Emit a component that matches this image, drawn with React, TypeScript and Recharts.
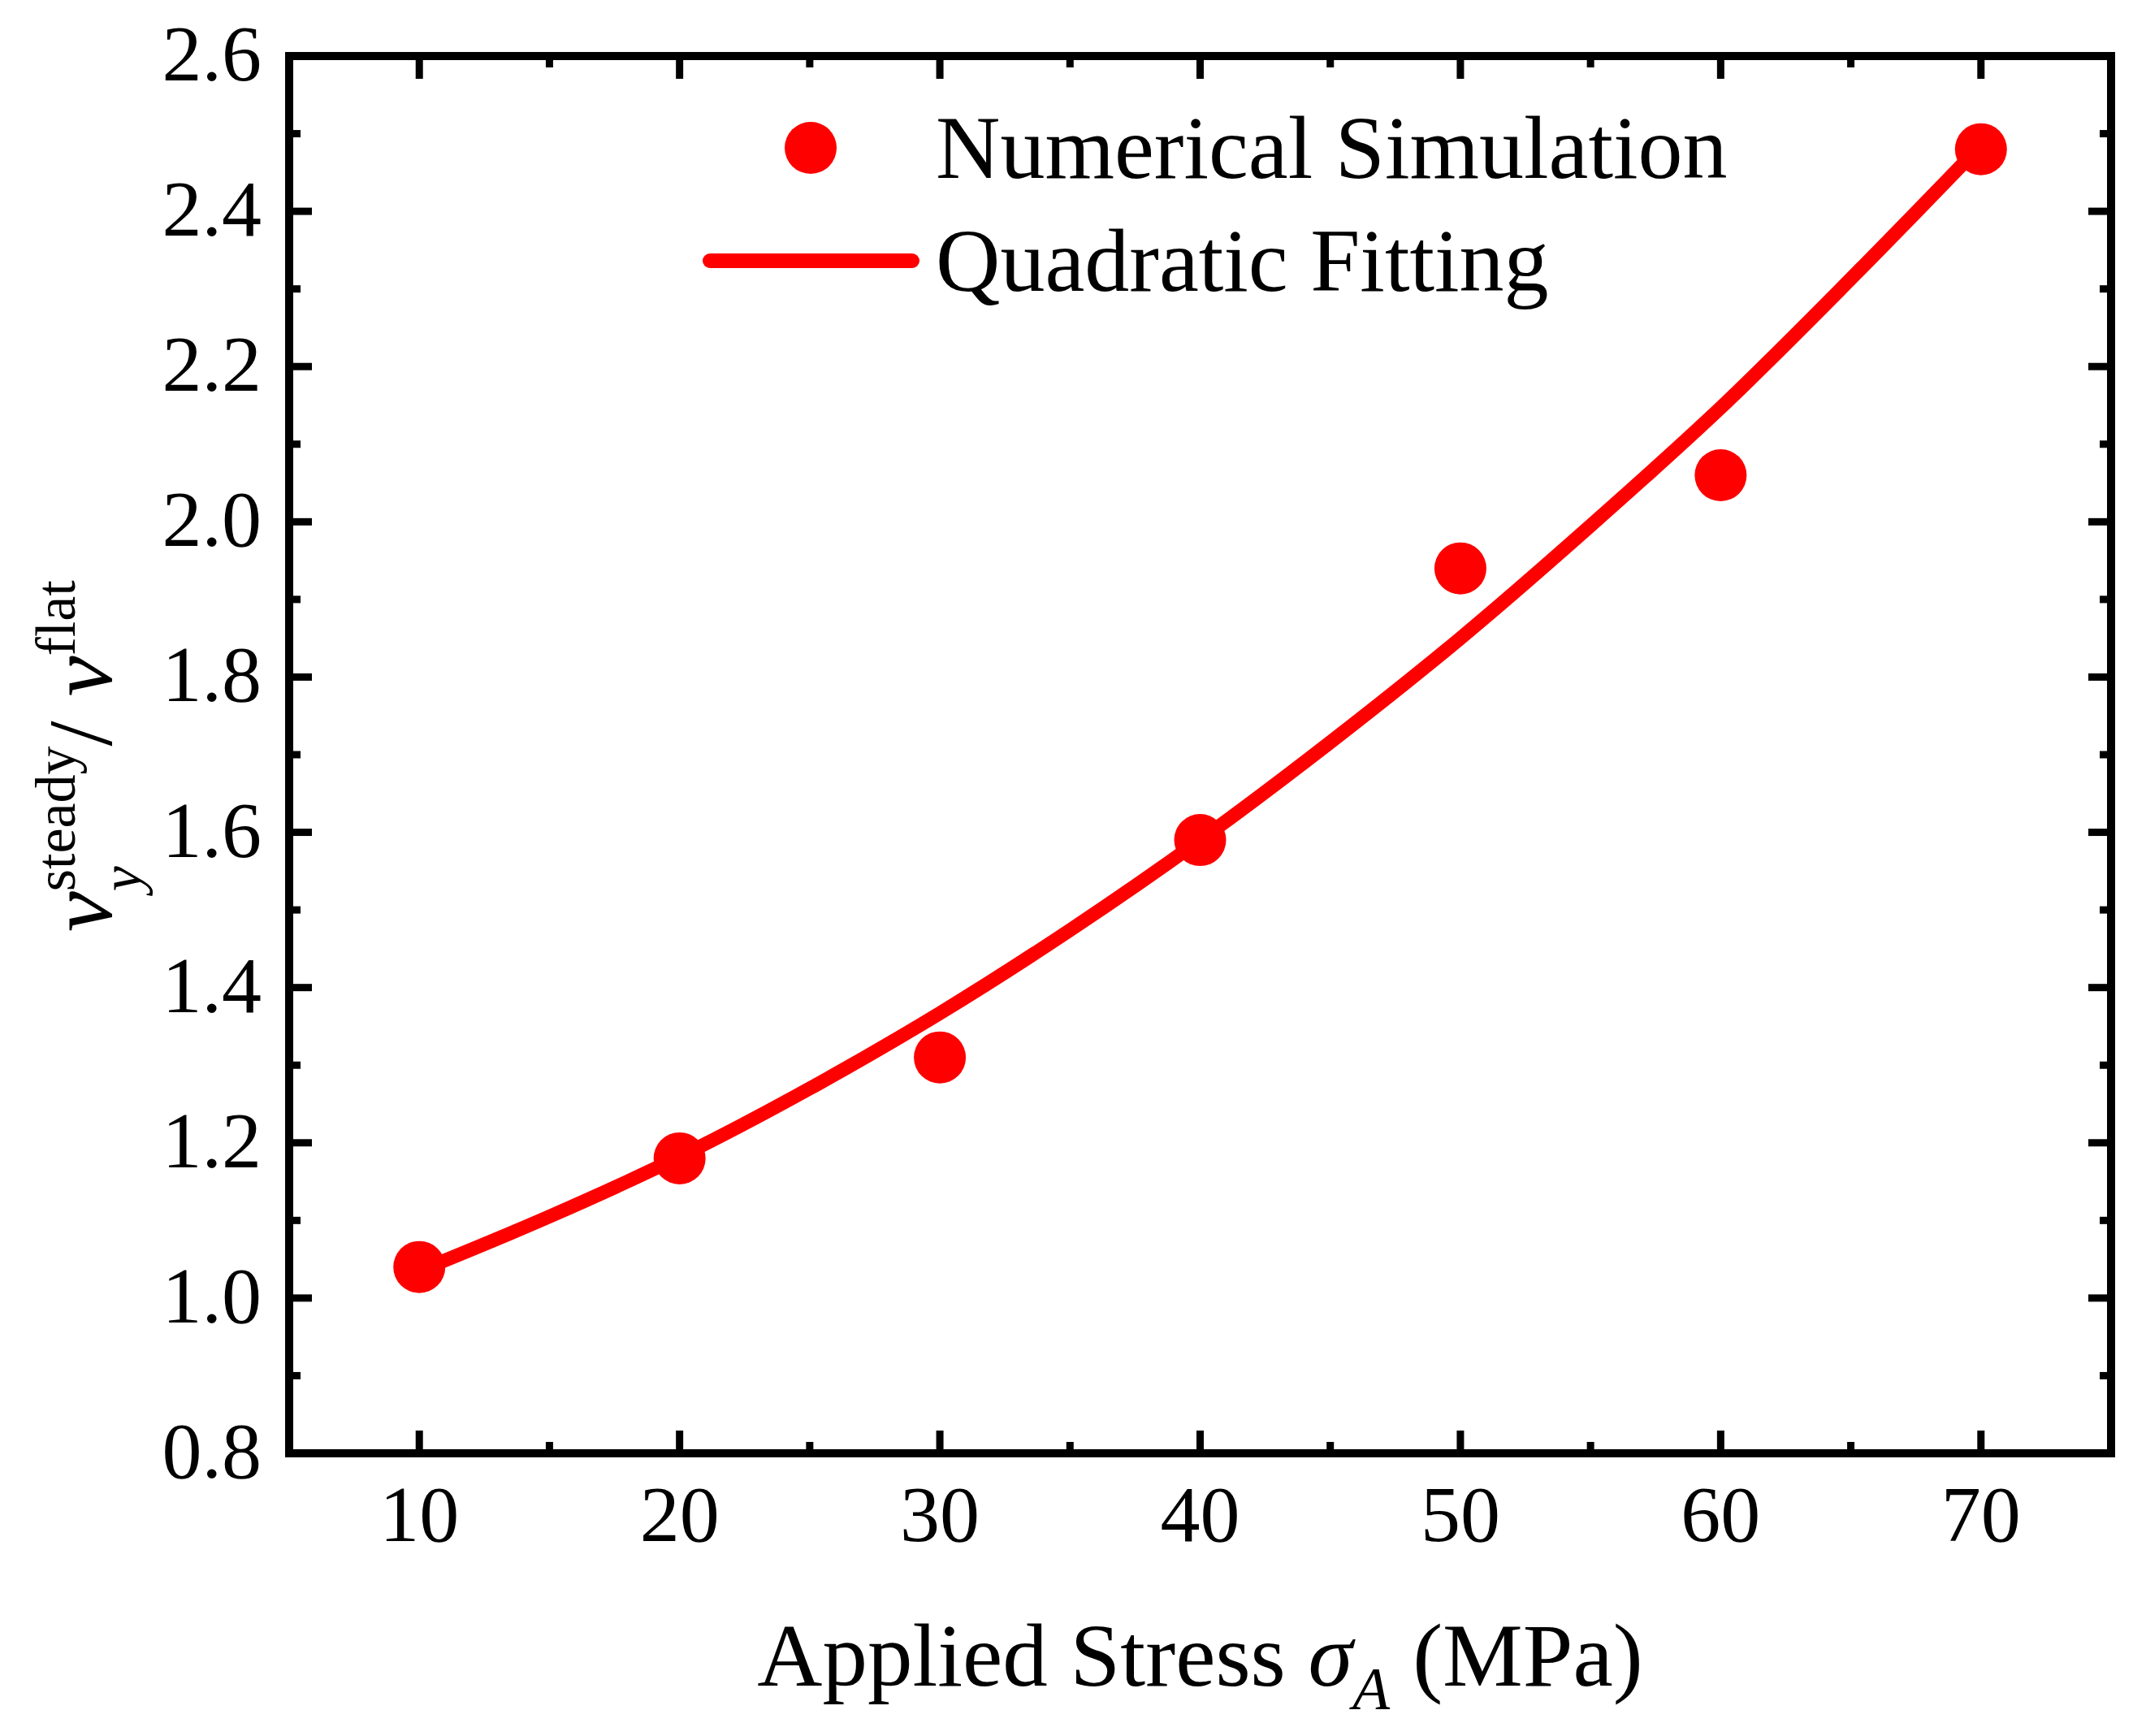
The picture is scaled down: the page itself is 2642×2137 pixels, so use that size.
import React from 'react';
import { ComposedChart, Line, Scatter, XAxis, YAxis, ReferenceArea, Legend } from 'recharts';

// applied stress (MPa) and v_y^steady / v^flat from the simulation
const stress = [10, 20, 30, 40, 50, 60, 70];
const simRatio = [1.04, 1.18, 1.31, 1.59, 1.94, 2.06, 2.48];

// points
const fitStress = [10, 15, 20, 25, 30, 35, 40, 45, 50, 55, 60, 65, 70];
const fitRatio = [1.035, 1.105, 1.182, 1.27, 1.367, 1.474, 1.59, 1.716, 1.85, 1.995, 2.147, 2.313, 2.485];

const xTicks = [10, 15, 20, 25, 30, 35, 40, 45, 50, 55, 60, 65, 70];
const yTicks = [0.8, 0.9, 1.0, 1.1, 1.2, 1.3, 1.4, 1.5, 1.6, 1.7, 1.8, 1.9, 2.0, 2.1, 2.2, 2.3, 2.4, 2.5, 2.6];

const simData = stress.map((x, i) => ({ x, v: simRatio[i] }));
const fitData = fitStress.map((x, i) => ({ x, v: fitRatio[i] }));

const FONT = '"Liberation Serif", "Times New Roman", serif';
const RED = '#FF0000';
const MAJOR = 28;
const MINOR = 14;
const TICK_W = 9;

const isMajorX = (v: number) => v % 10 === 0;
const isMajorY = (v: number) => Math.round(v * 10) % 2 === 0;

const BottomTick = ({ x, y, payload }: any) => {
  const major = isMajorX(payload.value);
  return (
    <g>
      <line x1={x} x2={x} y1={y} y2={y - (major ? MAJOR : MINOR)} stroke="#000" strokeWidth={TICK_W} />
      {major && (
        <text x={x} y={y + 108} textAnchor="middle" fontSize={98} fontFamily={FONT} fill="#000">
          {payload.value}
        </text>
      )}
    </g>
  );
};

const TopTick = ({ x, y, payload }: any) => {
  const major = isMajorX(payload.value);
  return <line x1={x} x2={x} y1={y} y2={y + (major ? MAJOR : MINOR)} stroke="#000" strokeWidth={TICK_W} />;
};

const LeftTick = ({ x, y, payload }: any) => {
  const major = isMajorY(payload.value);
  return (
    <g>
      <line x1={x} x2={x + (major ? MAJOR : MINOR)} y1={y} y2={y} stroke="#000" strokeWidth={TICK_W} />
      {major && (
        <text x={x - 34} y={y + 30} textAnchor="end" fontSize={98} fontFamily={FONT} fill="#000">
          {Number(payload.value).toFixed(1)}
        </text>
      )}
    </g>
  );
};

const RightTick = ({ x, y, payload }: any) => {
  const major = isMajorY(payload.value);
  return <line x1={x} x2={x - (major ? MAJOR : MINOR)} y1={y} y2={y} stroke="#000" strokeWidth={TICK_W} />;
};

const YLabel = ({ viewBox }: any) => {
  const vb = viewBox ?? { x: 0, y: 69, width: 356, height: 1720 };
  const cy = vb.y + vb.height / 2 - 4;
  return (
    <text transform="rotate(-90)" x={-(cy + 222)} y={vb.x + 137} fontFamily={FONT} fontSize={112} fill="#000">
      <tspan fontStyle="italic">v</tspan>
      <tspan fontStyle="italic" fontSize={70} dy={36}>y</tspan>
      <tspan fontSize={70} dx={-31} dy={-81}>steady</tspan>
      <tspan dy={45}>/</tspan>
      <tspan fontStyle="italic" dx={30}>v</tspan>
      <tspan fontSize={70} dy={-45}>flat</tspan>
    </text>
  );
};

const XLabel = ({ viewBox }: any) => {
  const vb = viewBox ?? { x: 356, y: 1789, width: 2243, height: 348 };
  return (
    <text x={vb.x + vb.width / 2} y={vb.y + 286} textAnchor="middle" fontFamily={FONT} fontSize={111} fill="#000">
      Applied Stress <tspan fontStyle="italic">σ</tspan>
      <tspan fontStyle="italic" fontSize={75} dy={29}>A</tspan>
      <tspan dx={28} dy={-29}>(MPa)</tspan>
    </text>
  );
};

const LegendBox = () => (
  <svg width={1300} height={320}>
    <circle cx={148} cy={62} r={32} fill={RED} />
    <text x={302} y={99} fontSize={110} fontFamily={FONT} fill="#000">Numerical Simulation</text>
    <line x1={24} x2={273} y1={201} y2={201} stroke={RED} strokeWidth={18} strokeLinecap="round" />
    <text x={302} y={238} fontSize={110} fontFamily={FONT} fill="#000">Quadratic Fitting</text>
  </svg>
);

const App = () => {
  return (
    <div style={{ position: 'absolute', left: 0, top: 0, width: 2642, height: 2137, background: '#fff' }}>
      <ComposedChart width={2642} height={2137} margin={{ top: 0, right: 0, bottom: 0, left: 0 }}>
        <XAxis
          xAxisId="b"
          type="number"
          dataKey="x"
          domain={[5, 75]}
          ticks={xTicks}
          interval={0}
          height={348}
          axisLine={false}
          tickLine={false}
          tickSize={0}
          tickMargin={0}
          tick={<BottomTick />}
          label={<XLabel />}
          allowDataOverflow
        />
        <XAxis
          xAxisId="t"
          orientation="top"
          type="number"
          dataKey="x"
          domain={[5, 75]}
          ticks={xTicks}
          interval={0}
          height={69}
          axisLine={false}
          tickLine={false}
          tickSize={0}
          tickMargin={0}
          tick={<TopTick />}
          allowDataOverflow
        />
        <YAxis
          yAxisId="l"
          type="number"
          dataKey="v"
          domain={[0.8, 2.6]}
          ticks={yTicks}
          interval={0}
          width={356}
          axisLine={false}
          tickLine={false}
          tickSize={0}
          tickMargin={0}
          tick={<LeftTick />}
          label={<YLabel />}
          allowDataOverflow
        />
        <YAxis
          yAxisId="r"
          orientation="right"
          type="number"
          dataKey="v"
          domain={[0.8, 2.6]}
          ticks={yTicks}
          interval={0}
          width={43}
          axisLine={false}
          tickLine={false}
          tickSize={0}
          tickMargin={0}
          tick={<RightTick />}
          allowDataOverflow
        />
        <ReferenceArea
          xAxisId="b"
          yAxisId="l"
          x1={5}
          x2={75}
          y1={0.8}
          y2={2.6}
          fill="none"
          stroke="#000"
          strokeWidth={10}
          ifOverflow="visible"
        />
        <Line
          xAxisId="b"
          yAxisId="l"
          data={fitData}
          dataKey="v"
          type="monotone"
          stroke={RED}
          strokeWidth={17}
          dot={false}
          activeDot={false}
          isAnimationActive={false}
          name="Quadratic Fitting"
        />
        <Scatter
          xAxisId="b"
          yAxisId="l"
          data={simData}
          dataKey="v"
          fill={RED}
          shape={(p: any) => <circle cx={p.cx} cy={p.cy} r={32} fill={RED} />}
          isAnimationActive={false}
          name="Numerical Simulation"
        />
        <Legend
          layout="horizontal"
          verticalAlign="middle"
          align="center"
          content={<LegendBox />}
          wrapperStyle={{ left: 850, top: 120, width: 1300, height: 320 }}
        />
      </ComposedChart>
    </div>
  );
};

export default App;
